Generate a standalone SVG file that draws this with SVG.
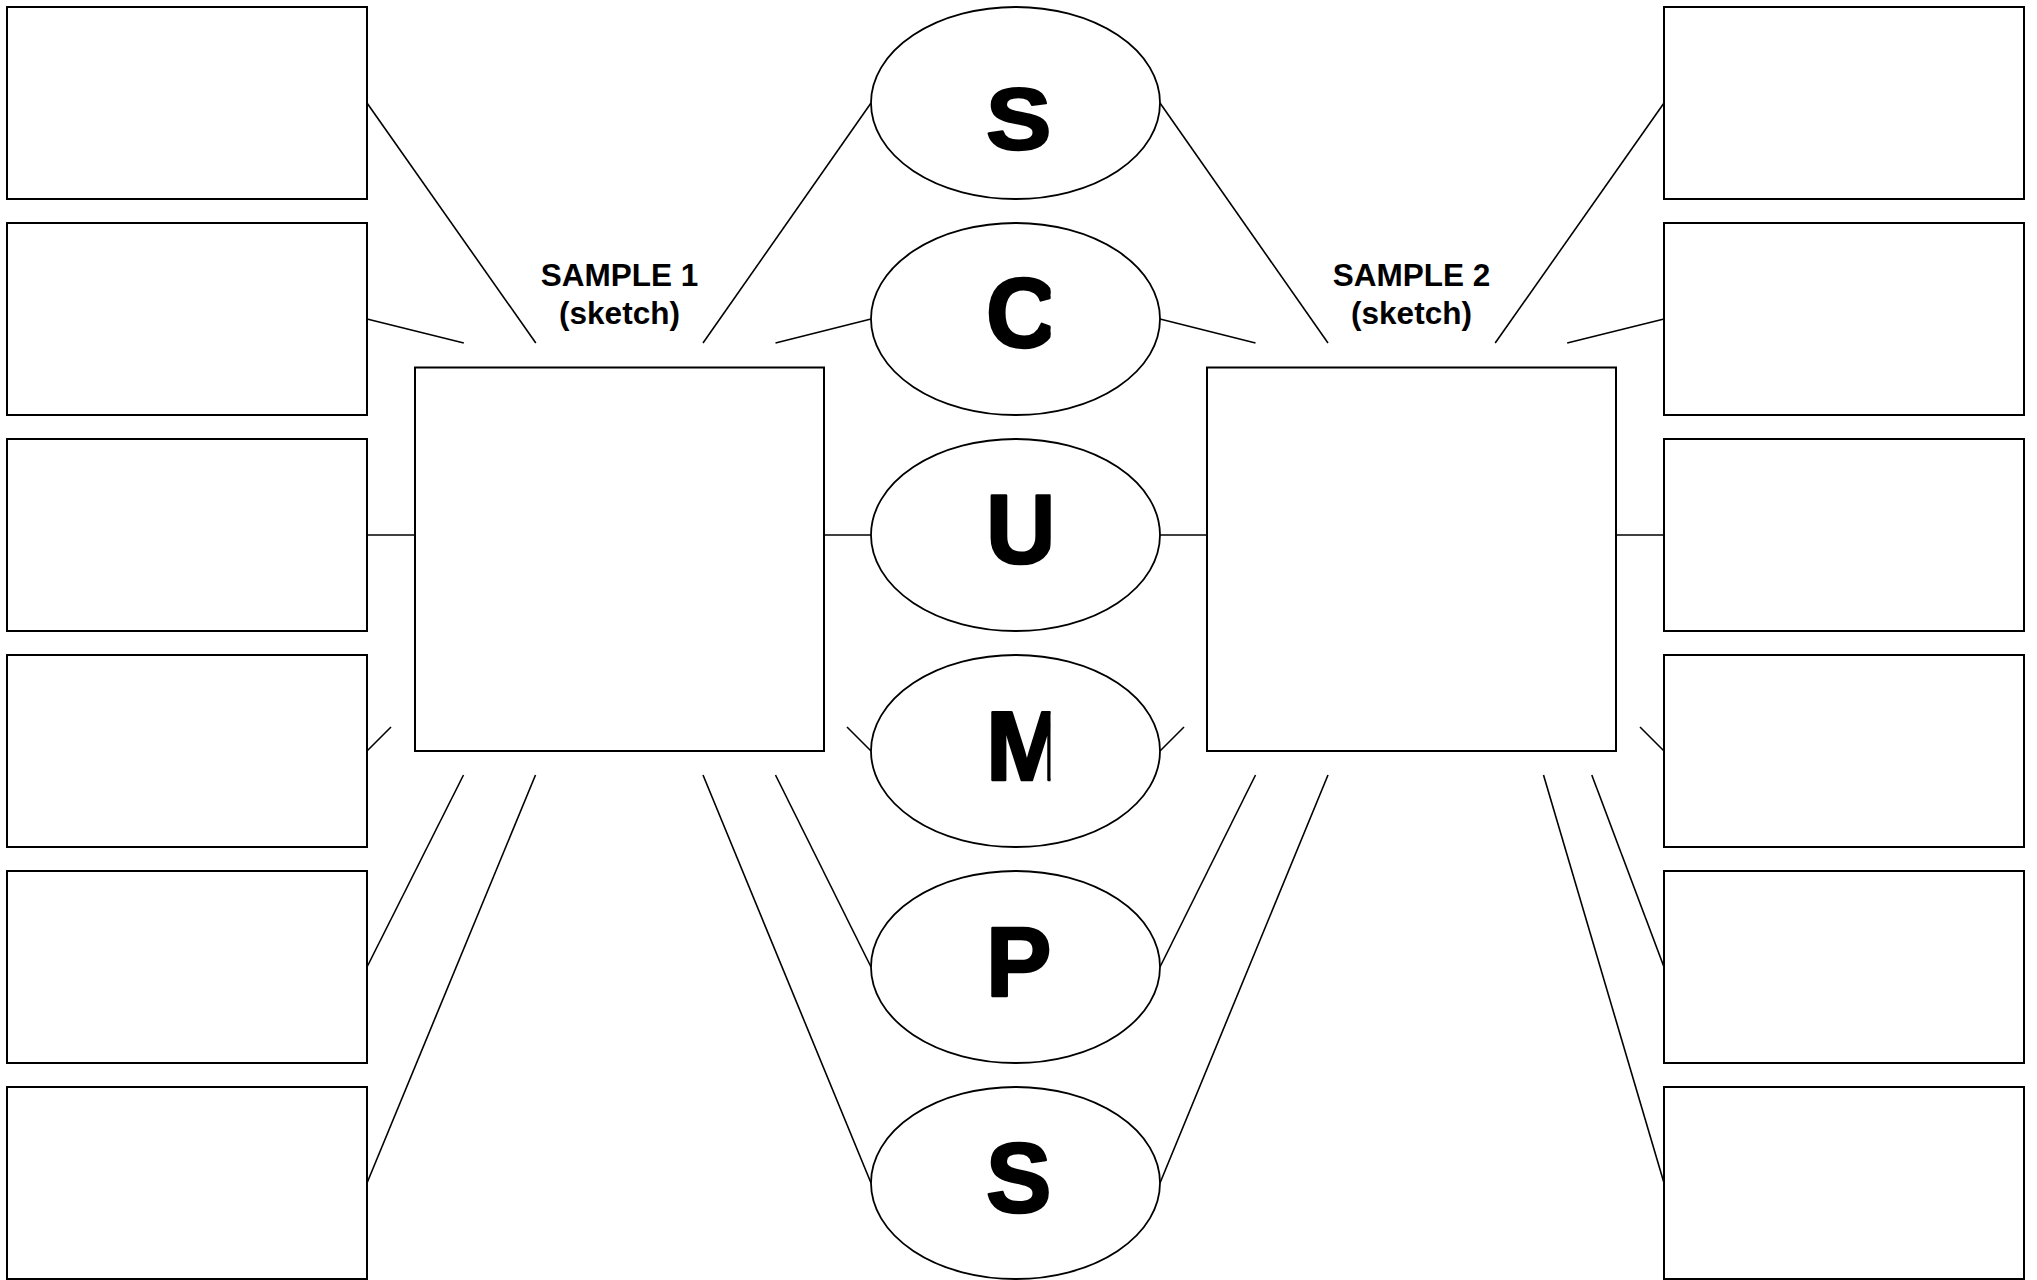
<svg xmlns="http://www.w3.org/2000/svg" width="2037" height="1280" viewBox="0 0 2037 1280">
<style>
.box{fill:#fff;stroke:#000;stroke-width:2}
.ell{fill:#fff;stroke:#000;stroke-width:1.8}
.con line{stroke:#000;stroke-width:1.6;stroke-linecap:butt}
.lbl{font-family:"Liberation Sans",Arial,sans-serif;font-weight:bold;font-size:31.5px;text-anchor:middle;fill:#000}
.big{font-family:"Liberation Sans",Arial,sans-serif;font-weight:bold;font-size:98px;fill:#000;stroke:#000;stroke-width:2.6;stroke-linejoin:round}
</style>
<defs>
<clipPath id="clipL"><rect x="900" y="0" width="150.5" height="1280"/></clipPath>
</defs>
<rect width="2037" height="1280" fill="#fff"/>
<g class="con" id="connectors">
<line x1="367" y1="103" x2="535.8" y2="343"/>
<line x1="367" y1="319" x2="463.8" y2="343"/>
<line x1="367" y1="535" x2="415" y2="535"/>
<line x1="367" y1="751" x2="391" y2="727"/>
<line x1="367" y1="967" x2="463.5" y2="775"/>
<line x1="367" y1="1183" x2="535.5" y2="775"/>
<line x1="871" y1="103" x2="703" y2="343"/>
<line x1="871" y1="319" x2="775.5" y2="343"/>
<line x1="824" y1="535" x2="871" y2="535"/>
<line x1="847" y1="727" x2="871" y2="751"/>
<line x1="775.5" y1="775" x2="871" y2="967"/>
<line x1="703" y1="775" x2="871" y2="1183"/>
<line x1="1160" y1="103" x2="1328" y2="343"/>
<line x1="1160" y1="319" x2="1255.5" y2="343"/>
<line x1="1160" y1="535" x2="1207" y2="535"/>
<line x1="1184" y1="727" x2="1160" y2="751"/>
<line x1="1255.5" y1="775" x2="1160" y2="967"/>
<line x1="1328" y1="775" x2="1160" y2="1183"/>
<line x1="1664" y1="103" x2="1495.2" y2="343"/>
<line x1="1664" y1="319" x2="1567.2" y2="343"/>
<line x1="1616" y1="535" x2="1664" y2="535"/>
<line x1="1640" y1="727" x2="1664" y2="751"/>
<line x1="1591.8" y1="775" x2="1664" y2="967"/>
<line x1="1543.5" y1="775" x2="1664" y2="1183"/>
</g>
<g id="left-boxes">
<rect id="L1" class="box" x="7" y="7" width="360" height="192"/>
<rect id="L2" class="box" x="7" y="223" width="360" height="192"/>
<rect id="L3" class="box" x="7" y="439" width="360" height="192"/>
<rect id="L4" class="box" x="7" y="655" width="360" height="192"/>
<rect id="L5" class="box" x="7" y="871" width="360" height="192"/>
<rect id="L6" class="box" x="7" y="1087" width="360" height="192"/>
</g>
<g id="right-boxes">
<rect id="R1" class="box" x="1664" y="7" width="360" height="192"/>
<rect id="R2" class="box" x="1664" y="223" width="360" height="192"/>
<rect id="R3" class="box" x="1664" y="439" width="360" height="192"/>
<rect id="R4" class="box" x="1664" y="655" width="360" height="192"/>
<rect id="R5" class="box" x="1664" y="871" width="360" height="192"/>
<rect id="R6" class="box" x="1664" y="1087" width="360" height="192"/>
</g>
<g id="sample1">
<rect class="box" x="415" y="367.5" width="409" height="383.5"/>
<text class="lbl" x="619.5" y="286">SAMPLE 1</text>
<text class="lbl" x="619.5" y="323.5">(sketch)</text>
</g>
<g id="sample2">
<rect class="box" x="1207" y="367.5" width="409" height="383.5"/>
<text class="lbl" x="1411.5" y="286">SAMPLE 2</text>
<text class="lbl" x="1411.5" y="323.5">(sketch)</text>
</g>
<g id="ell-S1"><ellipse class="ell" cx="1015.5" cy="103" rx="144.5" ry="96"/>
<g clip-path="url(#clipL)"><text class="big" transform="translate(0,149.2) scale(1,0.89)" x="986" y="0">S</text></g></g>
<g id="ell-C"><ellipse class="ell" cx="1015.5" cy="319" rx="144.5" ry="96"/>
<g clip-path="url(#clipL)"><text class="big" x="986" y="346.8">C</text></g></g>
<g id="ell-U"><ellipse class="ell" cx="1015.5" cy="535" rx="144.5" ry="96"/>
<g clip-path="url(#clipL)"><text class="big" x="986" y="562.8">U</text></g></g>
<g id="ell-M"><ellipse class="ell" cx="1015.5" cy="751" rx="144.5" ry="96"/>
<g clip-path="url(#clipL)"><text class="big" x="986" y="779.5">M</text></g></g>
<g id="ell-P"><ellipse class="ell" cx="1015.5" cy="967" rx="144.5" ry="96"/>
<g clip-path="url(#clipL)"><text class="big" x="986" y="996">P</text></g></g>
<g id="ell-S2"><ellipse class="ell" cx="1015.5" cy="1183" rx="144.5" ry="96"/>
<g clip-path="url(#clipL)"><text class="big" x="986" y="1211.5">S</text></g></g>
</svg>
